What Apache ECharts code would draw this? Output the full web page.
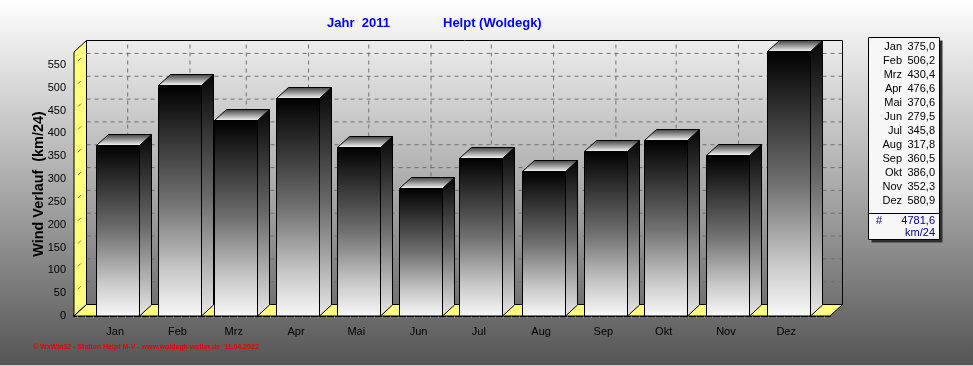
<!DOCTYPE html>
<html>
<head>
<meta charset="utf-8">
<style>
html, body { margin: 0; padding: 0; background: #fff; }
#main { width: 973px; height: 366px; }
</style>
<script src="https://cdn.jsdelivr.net/npm/echarts@6/dist/echarts.min.js"></script>
</head>
<body>
<div id="main"></div>
<script>
var months = ['Jan', 'Feb', 'Mrz', 'Apr', 'Mai', 'Jun', 'Jul', 'Aug', 'Sep', 'Okt', 'Nov', 'Dez'];
// day of year the month is plotted at (the axis runs in days, so Feb sits closer)
var monthDays = [15, 46, 74, 105, 135, 166, 196, 227, 258, 288, 319, 349];
var windValues = [375.0, 506.2, 430.4, 476.6, 370.6, 279.5, 345.8, 317.8, 360.5, 386.0, 352.3, 580.9];
var totalText = '4781,6';
var unitText = 'km/24';
var yTicks = [0, 50, 100, 150, 200, 250, 300, 350, 400, 450, 500, 550];
var xMinorTicks = [];
for (var t = -4; t < 371; t += 4) xMinorTicks.push(t);

var xMin = -5.5, xMax = 370.8, yMax = 578.4;
var depthX = 12.5, depthY = -11.5;
var yellow = '#ffff80';

var myChart = echarts.init(document.getElementById('main'));

function vGrad(stops) {
  return new echarts.graphic.LinearGradient(0, 0, 0, 1, stops.map(function (s) {
    return { offset: s[0], color: s[1] };
  }));
}

// walls, floor and the dashed grid on the back wall
function renderFrame(params, api) {
  var a = api.coord([xMin, 0]), b = api.coord([xMax, 0]), c = api.coord([xMin, yMax]);
  var bk = function (p) { return [p[0] + depthX, p[1] + depthY]; };
  var kids = [];
  var line = function (p, q, w, col, dash) {
    kids.push({ type: 'line', shape: { x1: p[0], y1: p[1], x2: q[0], y2: q[1] },
      style: { stroke: col, lineWidth: w, lineDash: dash || null } });
  };
  kids.push({ type: 'polygon', shape: { points: [a, c, bk(c), bk(a)] },
    style: { fill: yellow, stroke: '#000', lineWidth: 1 } });
  kids.push({ type: 'polygon', shape: { points: [a, b, bk(b), bk(a)] },
    style: { fill: yellow, stroke: '#000', lineWidth: 1 } });
  yTicks.forEach(function (v) {
    if (v === 0) return;
    var p = api.coord([xMin, v]);
    line(bk(p), [bk(b)[0], bk(p)[1]], 1, '#707070', [4, 4]);
    line([p[0] + 4, p[1] - 4], [p[0] + 7, p[1] - 7], 1, '#777');
  });
  monthDays.forEach(function (d) {
    var p = api.coord([d, 0]), q = api.coord([d, yMax]);
    line(bk(p), bk(q), 1, '#707070', [4, 4]);
  });
  line(bk(c), [bk(b)[0], bk(c)[1]], 1, '#000');
  line([bk(b)[0], bk(c)[1]], bk(b), 1, '#000');
  return { type: 'group', children: kids };
}

function renderBar(params, api) {
  var day = api.value(0) + 1;
  var w = api.size([21.5, 0])[0];
  var top = api.coord([day, api.value(1)]);
  var base = api.coord([day, 0]);
  var l = Math.round(top[0] - w / 2) + 0.5, r = l + Math.round(w);
  var yt = Math.round(top[1]) + 0.5, yb = base[1];
  var dx = 12, dy = -11;
  return { type: 'group', children: [
    { type: 'polygon', shape: { points: [[r, yt], [r + dx, yt + dy], [r + dx, yb + dy], [r, yb]] },
      style: { fill: vGrad([[0, '#060606'], [0.5, '#686868'], [1, '#e8e8e8']]), stroke: '#000', lineWidth: 1 } },
    { type: 'polygon', shape: { points: [[l, yt], [l + dx, yt + dy], [r + dx, yt + dy], [r, yt]] },
      style: { fill: vGrad([[0, '#3c3c3c'], [1, '#ffffff']]), stroke: '#000', lineWidth: 1 } },
    { type: 'rect', shape: { x: l, y: yt, width: r - l, height: yb - yt },
      style: { fill: vGrad([[0, '#000000'], [0.5, '#707070'], [0.8, '#c8c8c8'], [1, '#f8f8f8']]),
        stroke: '#000', lineWidth: 1 } }
  ] };
}

// value box on the right
var boxX = 868.5, boxY = 37.5, boxW = 71, boxH = 202, boxDiv = 213.5;
var boxItems = [
  { type: 'rect', shape: { x: boxX + 3, y: boxY + 3, width: boxW, height: boxH }, style: { fill: '#303030' } },
  { type: 'rect', shape: { x: boxX, y: boxY, width: boxW, height: boxH }, style: { fill: '#f7f7f7', stroke: '#000', lineWidth: 1 } },
  { type: 'line', shape: { x1: boxX, y1: boxDiv, x2: boxX + boxW, y2: boxDiv }, style: { stroke: '#000', lineWidth: 1 } }
];
months.forEach(function (m, i) {
  var y = 47 + i * 14;
  boxItems.push({ type: 'text', x: 902, y: y, style: { text: m, font: '11px "Liberation Sans"', fill: '#000', align: 'right', verticalAlign: 'middle' } });
  boxItems.push({ type: 'text', x: 935, y: y, style: { text: windValues[i].toFixed(1).replace('.', ','), font: '11px "Liberation Sans"', fill: '#000', align: 'right', verticalAlign: 'middle' } });
});
boxItems.push({ type: 'text', x: 876, y: 221, style: { text: '#', font: '11px "Liberation Sans"', fill: '#000080', verticalAlign: 'middle' } });
boxItems.push({ type: 'text', x: 935, y: 221, style: { text: totalText, font: '11px "Liberation Sans"', fill: '#000080', align: 'right', verticalAlign: 'middle' } });
boxItems.push({ type: 'text', x: 935, y: 233, style: { text: unitText, font: '11px "Liberation Sans"', fill: '#000080', align: 'right', verticalAlign: 'middle' } });
boxItems.push({ type: 'text', x: 33, y: 347, style: { text: '© WxWin32 - Station Helpt M-V - www.woldegk-wetter.de  11.04.2022', font: 'bold 7px "Liberation Sans"', fill: '#f00000', verticalAlign: 'middle' } });
boxItems.push({ type: 'rect', shape: { x: 0, y: 365, width: 973, height: 1 }, style: { fill: '#d0d0d0' } });

var option = {
  animation: false,
  backgroundColor: vGrad([[0, '#ffffff'], [0.5, '#acacac'], [1, '#545454']]),
  title: [
    { text: 'Jahr  2011', left: 322, top: 12, textStyle: { color: '#0000f0', fontFamily: 'Liberation Sans', fontSize: 13, fontWeight: 'bold' } },
    { text: 'Helpt (Woldegk)', left: 438, top: 12, textStyle: { color: '#0000f0', fontFamily: 'Liberation Sans', fontSize: 13, fontWeight: 'bold' } }
  ],
  grid: { left: 74, right: 143, top: 52, bottom: 50 },
  xAxis: {
    type: 'value', min: xMin, max: xMax,
    splitLine: { show: false },
    axisLine: { lineStyle: { color: '#000', width: 2 } },
    axisTick: { customValues: xMinorTicks, length: 2, lineStyle: { color: '#999' } },
    axisLabel: {
      customValues: monthDays, margin: 10, color: '#000',
      fontFamily: 'Liberation Sans', fontSize: 11,
      formatter: function (v) { return months[monthDays.indexOf(v)]; }
    }
  },
  yAxis: {
    type: 'value', min: 0, max: yMax, interval: 50,
    name: 'Wind Verlauf  (km/24)', nameLocation: 'middle', nameGap: 28, nameMoveOverlap: false,
    nameTextStyle: { color: '#000', fontFamily: 'Liberation Sans', fontSize: 14.4, fontWeight: 'bold' },
    splitLine: { show: false },
    axisLine: { show: true, lineStyle: { color: '#000', width: 2 } },
    axisTick: { length: 5, lineStyle: { color: '#333' } },
    minorTick: { show: true, splitNumber: 5, length: 2, lineStyle: { color: '#333' } },
    axisLabel: { showMaxLabel: false, margin: 8, color: '#000', fontFamily: 'Liberation Sans', fontSize: 11 }
  },
  graphic: boxItems,
  series: [
    { type: 'custom', z: 1, clip: false, silent: true, renderItem: renderFrame, data: [[0, 0]] },
    { type: 'custom', z: 3, clip: false, renderItem: renderBar,
      encode: { x: 0, y: 1 },
      data: monthDays.map(function (d, i) { return [d, windValues[i]]; }) }
  ]
};

myChart.setOption(option);
</script>
</body>
</html>
